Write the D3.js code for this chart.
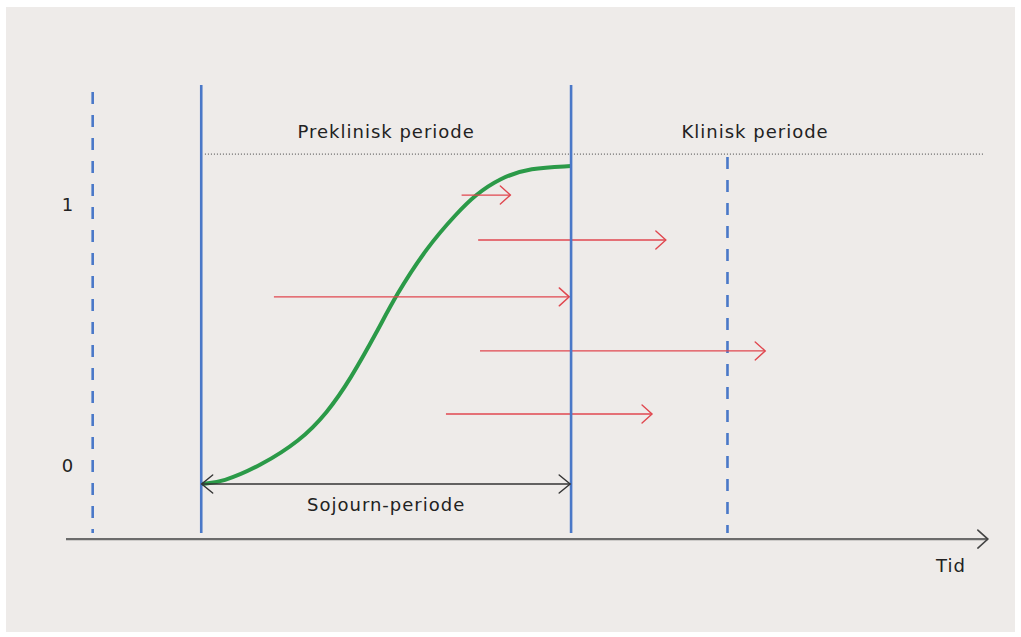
<!DOCTYPE html>
<html><head><meta charset="utf-8">
<script src="https://cdn.jsdelivr.net/npm/d3@7"></script>
<style>html,body{margin:0;padding:0;background:#fff;}svg{display:block;}</style>
</head><body>
<script>
// ---- data (time units 0..100, level units 0..1) ----
const curveX = [14.67, 17.0, 21.09, 25.43, 28.37, 30.87, 33.91, 35.76, 39.24, 42.50, 44.46, 47.17, 50.43, 54.89];
const curveY = [-0.069, -0.062, 0.000, 0.096, 0.203, 0.330, 0.521, 0.648, 0.839, 0.969, 1.038, 1.103, 1.142, 1.149];
const arrowStart = [43.0, 44.8, 22.6, 45.0, 41.3];
const arrowEnd   = [48.3, 65.2, 54.7, 76.0, 63.7];
const arrowLevel = [1.038, 0.866, 0.648, 0.441, 0.199];
const solidLineX = [14.7, 54.9];
const dashedLineX = [2.9, 71.9];
const dashedLineTop = [1.433, 1.184];
const yTickValues = [0, 1];
const yTickLabels = ["0", "1"];
const periodLabels = ["Preklinisk periode", "Klinisk periode"];
const periodLabelX = [34.8, 74.9];
const sojournLabel = "Sojourn-periode";
const axisLabel = "Tid";

const W = 1021, H = 637;
const svg = d3.select("body").append("svg").attr("width", W).attr("height", H);
svg.append("rect").attr("x", 6).attr("y", 7).attr("width", 1009).attr("height", 625).attr("fill", "#eeebe9");

const x = d3.scaleLinear().domain([0, 100]).range([66, 986]);
const y = d3.scaleLinear().domain([0, 1]).range([466, 205]);

const BLUE = "#4a78c8", RED = "#e0474f", GREEN = "#2b9a48", DARK = "#333", AXIS = "#6b6b6b";
const FONT = "DejaVu Sans, Liberation Sans, sans-serif";

function chevron(g, tipX, tipY, dir, len, spread, color, w) {
  g.append("path")
    .attr("d", `M${tipX - dir*len},${tipY - spread}L${tipX},${tipY}L${tipX - dir*len},${tipY + spread}`)
    .attr("fill", "none").attr("stroke", color).attr("stroke-width", w)
    .attr("stroke-linejoin", "miter").attr("stroke-linecap", "round");
}

const yBottom = -0.257, yTop = 1.460, yAxis = -0.280;

// dotted reference line
svg.append("line").attr("x1", x(15.1)).attr("x2", x(99.7)).attr("y1", y(1.195)).attr("y2", y(1.195))
  .attr("stroke", "#444").attr("stroke-width", 1).attr("stroke-dasharray", "1,2");

// dashed blue lines
dashedLineX.forEach((v, i) => {
  svg.append("line").attr("x1", x(v)).attr("x2", x(v)).attr("y1", y(dashedLineTop[i])).attr("y2", y(yBottom))
    .attr("stroke", BLUE).attr("stroke-width", 2.6).attr("stroke-dasharray", "12,11");
});

// green curve
const line = d3.line().x(d => x(d[0])).y(d => y(d[1])).curve(d3.curveBasis);
svg.append("path").datum(curveX.map((v, i) => [v, curveY[i]]))
  .attr("d", line).attr("fill", "none").attr("stroke", GREEN).attr("stroke-width", 4);

// red arrows
arrowStart.forEach((s, i) => {
  const yy = y(arrowLevel[i]);
  svg.append("line").attr("x1", x(s)).attr("x2", x(arrowEnd[i])).attr("y1", yy).attr("y2", yy)
    .attr("stroke", RED).attr("stroke-width", 1.4);
  chevron(svg, x(arrowEnd[i]), yy, 1, 10, 9, RED, 1.4);
});

// solid blue lines
solidLineX.forEach(v => {
  svg.append("line").attr("x1", x(v)).attr("x2", x(v)).attr("y1", y(yTop)).attr("y2", y(yBottom))
    .attr("stroke", BLUE).attr("stroke-width", 2.6);
});

// sojourn arrow
const sy = y(-0.069);
svg.append("line").attr("x1", x(14.75)).attr("x2", x(54.8)).attr("y1", sy).attr("y2", sy)
  .attr("stroke", DARK).attr("stroke-width", 1.4);
chevron(svg, x(14.75), sy, -1, 11, 9, DARK, 1.4);
chevron(svg, x(54.8), sy, 1, 11, 9, DARK, 1.4);

// time axis
svg.append("line").attr("x1", x(0)).attr("x2", x(100.2)).attr("y1", y(yAxis)).attr("y2", y(yAxis))
  .attr("stroke", AXIS).attr("stroke-width", 2.4);
chevron(svg, x(100.2), y(yAxis), 1, 10, 9, "#444", 1.6);

// texts
const txt = (s, tx, ty) => svg.append("text").attr("x", tx).attr("y", ty).text(s)
  .attr("text-anchor", "middle").attr("font-family", FONT).attr("font-size", 18)
  .attr("letter-spacing", 1.0).attr("fill", "#222");
periodLabels.forEach((s, i) => txt(s, x(periodLabelX[i]), y(1.257)));
yTickValues.forEach((v, i) => txt(yTickLabels[i], 68, y(v) + 6));
txt(sojournLabel, x(34.8), y(-0.172));
txt(axisLabel, x(96.2), y(-0.405));
</script>
</body></html>
